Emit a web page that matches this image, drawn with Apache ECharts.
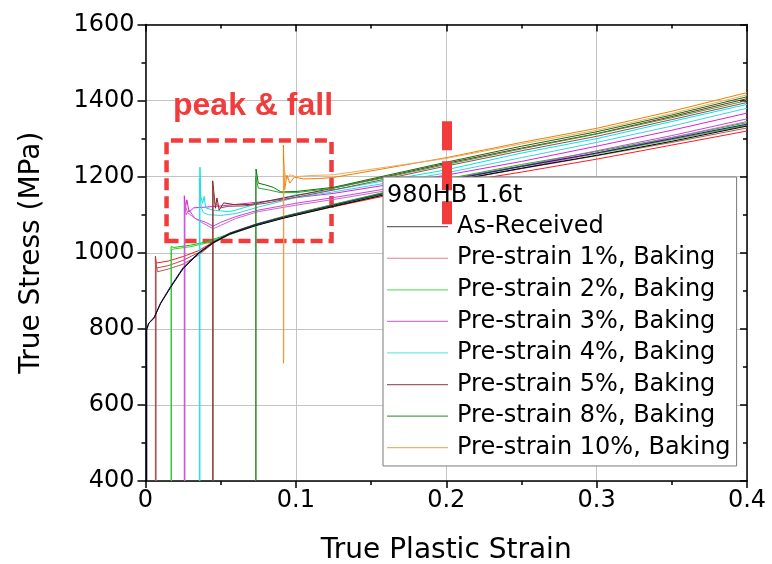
<!DOCTYPE html>
<html>
<head>
<meta charset="utf-8">
<style>html,body{margin:0;padding:0;background:#fff}#c{width:772px;height:564px}</style>
<script src="https://cdn.jsdelivr.net/npm/echarts@6/dist/echarts.min.js"></script>
</head>
<body>
<div id="c"></div>
<script>
// ---- data (true plastic strain, true stress MPa) ----
const legendNames = ['As-Received', 'Pre-strain 1%, Baking', 'Pre-strain 2%, Baking', 'Pre-strain 3%, Baking',
  'Pre-strain 4%, Baking', 'Pre-strain 5%, Baking', 'Pre-strain 8%, Baking', 'Pre-strain 10%, Baking'];
const legendTitle = '980HB 1.6t';

const asReceivedA = [[0.0006,400],[0.0006,796],[0.002,814],[0.0055,827],[0.01,866],[0.0166,908],[0.025,958],[0.035,997],[0.045,1026],[0.056,1049],[0.073,1071],[0.092,1091],[0.125,1122],[0.16,1153],[0.2,1186],[0.25,1222],[0.3,1256],[0.35,1293],[0.4,1333]];
const asReceivedB = [[0.0009,400],[0.0009,800],[0.0025,816],[0.006,832],[0.01,868],[0.0166,911],[0.025,961],[0.035,999],[0.045,1028],[0.056,1051],[0.073,1074],[0.092,1094],[0.125,1125],[0.16,1157],[0.2,1190],[0.25,1227],[0.3,1262],[0.35,1300],[0.4,1338]];

const pre1A = [[0.0066,400],[0.0066,991],[0.0072,973],[0.0085,972],[0.015,978],[0.025,990],[0.035,1005],[0.045,1028],[0.056,1050],[0.073,1072],[0.092,1092],[0.125,1121],[0.16,1150],[0.2,1180],[0.25,1212],[0.3,1246],[0.35,1283],[0.4,1320]];
const pre1B = [[0.0068,400],[0.0068,978],[0.0075,960],[0.015,966],[0.025,980],[0.035,1000],[0.045,1027],[0.056,1052],[0.073,1075],[0.092,1096],[0.125,1127],[0.16,1159],[0.2,1192],[0.25,1228],[0.3,1262],[0.35,1298],[0.4,1335]];
const pre1C = [[0.007,400],[0.007,970],[0.008,950],[0.015,957],[0.025,970],[0.035,993],[0.045,1025],[0.056,1048],[0.073,1072],[0.092,1093],[0.125,1123],[0.16,1155],[0.2,1186],[0.25,1221],[0.3,1255],[0.35,1290],[0.4,1328]];

const pre2A = [[0.017,400],[0.017,1016],[0.019,1014],[0.03,1020],[0.04,1028],[0.05,1042],[0.06,1056],[0.073,1074],[0.092,1095],[0.125,1127],[0.16,1160],[0.2,1194],[0.25,1232],[0.3,1266],[0.35,1303],[0.4,1342]];
const pre2B = [[0.0173,400],[0.0173,1008],[0.019,1010],[0.03,1016],[0.04,1025],[0.05,1039],[0.06,1053],[0.073,1071],[0.092,1092],[0.125,1123],[0.16,1156],[0.2,1189],[0.25,1226],[0.3,1260],[0.35,1297],[0.4,1336]];

const pre3A = [[0.0258,400],[0.0258,1150],[0.0265,1118],[0.0275,1139],[0.029,1107],[0.032,1118],[0.04,1120],[0.05,1123],[0.06,1127],[0.075,1133],[0.1,1145],[0.125,1156],[0.16,1178],[0.2,1204],[0.25,1240],[0.3,1280],[0.35,1322],[0.4,1367]];
const pre3B = [[0.026,400],[0.026,1135],[0.027,1100],[0.029,1112],[0.033,1090],[0.04,1080],[0.045,1070],[0.05,1080],[0.06,1095],[0.075,1112],[0.1,1130],[0.125,1145],[0.16,1168],[0.2,1192],[0.25,1228],[0.3,1268],[0.35,1308],[0.4,1352]];
const pre3C = [[0.0262,400],[0.0262,1128],[0.028,1105],[0.035,1085],[0.045,1063],[0.05,1072],[0.06,1090],[0.075,1108],[0.1,1125],[0.125,1140],[0.16,1163],[0.2,1186],[0.25,1222],[0.3,1262],[0.35,1303],[0.4,1345]];

const pre4A = [[0.0362,400],[0.0362,1225],[0.0368,1147],[0.038,1130],[0.039,1148],[0.04,1118],[0.045,1112],[0.05,1110],[0.055,1108],[0.06,1112],[0.075,1130],[0.1,1152],[0.125,1165],[0.16,1190],[0.2,1218],[0.25,1262],[0.3,1300],[0.35,1345],[0.4,1390]];
const pre4B = [[0.0358,400],[0.0358,1195],[0.037,1120],[0.0385,1105],[0.042,1100],[0.05,1098],[0.06,1103],[0.075,1120],[0.1,1145],[0.125,1160],[0.16,1183],[0.2,1210],[0.25,1250],[0.3,1290],[0.35,1333],[0.4,1380]];

const pre5A = [[0.0447,400],[0.0447,1189],[0.0455,1157],[0.0465,1117],[0.0475,1144],[0.049,1112],[0.052,1131],[0.06,1126],[0.07,1127],[0.08,1135],[0.1,1150],[0.125,1170],[0.16,1200],[0.2,1235],[0.25,1275],[0.3,1313],[0.35,1358],[0.4,1405]];
const pre5B = [[0.045,400],[0.045,1165],[0.046,1130],[0.048,1125],[0.05,1118],[0.055,1122],[0.065,1123],[0.08,1130],[0.1,1146],[0.125,1165],[0.16,1194],[0.2,1228],[0.25,1268],[0.3,1306],[0.35,1350],[0.4,1395]];

const pre8A = [[0.0735,400],[0.0735,1220],[0.075,1183],[0.08,1178],[0.085,1172],[0.09,1160],[0.1,1161],[0.125,1172],[0.16,1203],[0.2,1238],[0.25,1280],[0.3,1318],[0.35,1362],[0.4,1410]];
const pre8B = [[0.0732,400],[0.0732,1200],[0.075,1170],[0.082,1165],[0.09,1158],[0.1,1158],[0.125,1170],[0.16,1198],[0.2,1232],[0.25,1273],[0.3,1312],[0.35,1355],[0.4,1400]];

const pre10A = [[0.0917,709],[0.0917,1283],[0.0925,1165],[0.094,1204],[0.096,1183],[0.099,1199],[0.105,1194],[0.115,1195],[0.125,1198],[0.16,1222],[0.2,1250],[0.25,1290],[0.3,1327],[0.35,1372],[0.4,1421]];
const pre10B = [[0.092,720],[0.092,1230],[0.0935,1190],[0.096,1205],[0.1,1200],[0.11,1203],[0.125,1205],[0.16,1225],[0.2,1248],[0.25,1286],[0.3,1322],[0.35,1366],[0.4,1415]];

// annotations (data coordinates)
const peakBox = [[0.014, 1031], [0.1237, 1295]];
const peakLabel = 'peak & fall';
const markStrain = 0.2;
const markStressRange = [1346, 1075];

// ---- styling ----
const FONT = 'DejaVu Sans';
const RED = '#f23c3c';
const specimens = [
  { g: 1, d: pre1A, c: '#ff1a1a' }, { g: 1, d: pre1B, c: '#c04848' }, { g: 1, d: pre1C, c: '#b85858' },
  { g: 2, d: pre2A, c: '#00cc00' }, { g: 2, d: pre2B, c: '#3cc83c' },
  { g: 3, d: pre3A, c: '#e01ee0' }, { g: 3, d: pre3B, c: '#c846d2' }, { g: 3, d: pre3C, c: '#d264d2' },
  { g: 4, d: pre4A, c: '#00e6e6' }, { g: 4, d: pre4B, c: '#3cd2e0' },
  { g: 5, d: pre5A, c: '#8a2020' }, { g: 5, d: pre5B, c: '#905050' },
  { g: 6, d: pre8A, c: '#007800' }, { g: 6, d: pre8B, c: '#3a9a3a' },
  { g: 7, d: pre10A, c: '#f08000' }, { g: 7, d: pre10B, c: '#f0aa60' },
  { g: 0, d: asReceivedB, c: '#1c1c80' }, { g: 0, d: asReceivedA, c: '#000000' }
];
const legendColors = ['#6a6a6a', '#e88080', '#70e070', '#e070e0', '#70e8e8', '#a06060', '#50a050', '#f0b070'];

const series = specimens.map(s => ({
  type: 'line',
  name: legendNames[s.g],
  data: s.d,
  showSymbol: false,
  symbol: 'none',
  lineStyle: { width: 1, color: s.c },
  itemStyle: { color: legendColors[s.g] },
  emphasis: { disabled: true },
  z: 2
}));

series.push({
  type: 'line', name: '__annot', data: [], symbol: 'none', silent: true,
  markArea: {
    silent: true,
    itemStyle: { color: 'rgba(0,0,0,0)', borderColor: RED, borderWidth: 4.5, borderType: [12, 6] },
    data: [[{ coord: peakBox[0] }, { coord: peakBox[1] }]]
  },
  markLine: {
    silent: true, symbol: ['none', 'none'], label: { show: false },
    lineStyle: { color: RED, width: 10, type: [29, 11], cap: 'butt' },
    data: [[{ coord: [markStrain, markStressRange[0]] }, { coord: [markStrain, markStressRange[1]] }]]
  }
});

const axisLineStyle = { color: '#000', width: 1.5 };
const chart = echarts.init(document.getElementById('c'), null, { renderer: 'canvas' });
chart.setOption({
  animation: false,
  backgroundColor: '#ffffff',
  grid: { left: 145.5, right: 25, top: 24.5, bottom: 83, containLabel: false, outerBoundsMode: 'none' },
  title: {
    text: legendTitle, left: 387, top: 184, padding: 0,
    textStyle: { fontFamily: FONT, fontSize: 24, fontWeight: 'normal', color: '#000', lineHeight: 24 }
  },
  legend: {
    data: legendNames.map((n, i) => ({ name: n, icon: 'rect', itemStyle: { color: legendColors[i] } })),
    orient: 'vertical',
    left: 383, top: 177,
    padding: [33.9, 6, 2.5, 4],
    itemGap: 0,
    itemWidth: 61, itemHeight: 1.2,
    backgroundColor: '#ffffff',
    borderColor: '#7a7a7a', borderWidth: 1, borderRadius: 0,
    selectedMode: false,
    textStyle: { fontFamily: FONT, fontSize: 24, color: '#000', lineHeight: 31.57, padding: [0, 0, 0, 4] }
  },
  xAxis: [{
    type: 'value', min: 0, max: 0.4, interval: 0.1,
    name: 'True Plastic Strain', nameLocation: 'middle', nameGap: 56,
    nameTextStyle: { fontFamily: FONT, fontSize: 28, color: '#000' },
    axisLine: { show: true, onZero: false, lineStyle: axisLineStyle },
    axisTick: { show: true, inside: false, length: 7, lineStyle: { color: '#000', width: 1.5 } },
    minorTick: { show: true, splitNumber: 2, length: 4, lineStyle: { color: '#000', width: 1.5 } },
    axisLabel: { fontFamily: FONT, fontSize: 24, color: '#000', margin: 8, formatter: v => String(+v.toFixed(2)) },
    splitLine: { show: true, lineStyle: { color: '#c4c4c4', width: 1 } },
    minorSplitLine: { show: false }
  }, {
    type: 'value', min: 0, max: 0.4, interval: 0.1, position: 'top',
    axisLine: { show: true, onZero: false, lineStyle: axisLineStyle },
    axisTick: { show: true, inside: true, length: 7, lineStyle: { color: '#000', width: 1.5 } },
    minorTick: { show: true, splitNumber: 2, length: 4, lineStyle: { color: '#000', width: 1.5 } },
    axisLabel: { show: false }, splitLine: { show: false }
  }],
  yAxis: [{
    type: 'value', min: 400, max: 1600, interval: 200,
    name: 'True Stress (MPa)', nameLocation: 'middle', nameGap: 100, nameRotate: 90,
    nameTextStyle: { fontFamily: FONT, fontSize: 28, color: '#000' },
    axisLine: { show: true, onZero: false, lineStyle: axisLineStyle },
    axisTick: { show: true, inside: false, length: 8, lineStyle: { color: '#000', width: 1.5 } },
    minorTick: { show: true, splitNumber: 2, length: 4, lineStyle: { color: '#000', width: 1.5 } },
    axisLabel: { fontFamily: FONT, fontSize: 24, color: '#000', margin: 11, formatter: v => String(v) },
    splitLine: { show: true, lineStyle: { color: '#c4c4c4', width: 1 } },
    minorSplitLine: { show: false }
  }, {
    type: 'value', min: 400, max: 1600, interval: 200, position: 'right',
    axisLine: { show: true, onZero: false, lineStyle: axisLineStyle },
    axisTick: { show: true, inside: true, length: 7, lineStyle: { color: '#000', width: 1.5 } },
    minorTick: { show: true, splitNumber: 2, length: 4, lineStyle: { color: '#000', width: 1.5 } },
    axisLabel: { show: false }, splitLine: { show: false }
  }],
  graphic: [{
    type: 'text', x: 173, y: 106.5, z: 10, silent: true,
    style: { text: peakLabel, fill: RED, font: 'bold 32px "Liberation Sans", Arial, sans-serif', verticalAlign: 'middle', align: 'left' }
  }],
  series: series
});
</script>
</body>
</html>
